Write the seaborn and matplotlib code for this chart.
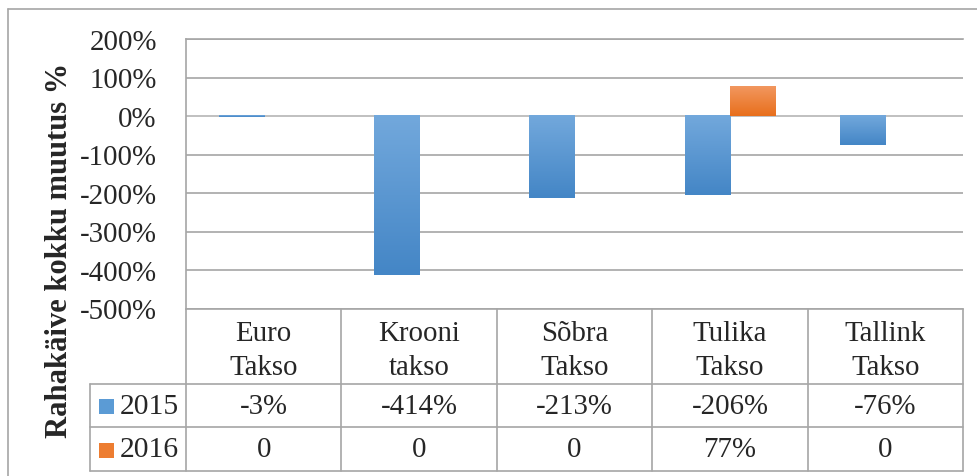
import numpy as np
import pandas as pd
import matplotlib
matplotlib.use("Agg")
import matplotlib.pyplot as plt
import matplotlib.transforms as mtransforms
import seaborn as sns
from matplotlib.colors import LinearSegmentedColormap
from matplotlib.patches import Rectangle
from matplotlib.lines import Line2D

# andmed
categories = ["Euro\nTakso", "Krooni\ntakso", "Sõbra\nTakso", "Tulika\nTakso", "Tallink\nTakso"]
years = ["2015", "2016"]
values_2015 = [-3, -414, -213, -206, -76]
values_2016 = [0, 0, 0, 77, 0]
y_ticks = [-500, -400, -300, -200, -100, 0, 100, 200]

df = pd.DataFrame({
    "firma": categories * 2,
    "aasta": [years[0]] * len(categories) + [years[1]] * len(categories),
    "muutus": values_2015 + values_2016,
})

base_colors = {"2015": "#5B9BD5", "2016": "#ED7D31"}
grad_colors = {"2015": ("#72A8DC", "#4486C6"), "2016": ("#F2975F", "#E86F1C")}
grid_col = "#a6a6a6"
fs = 20.8

sns.set_theme(style="white")
plt.rcParams["font.family"] = ["Liberation Serif", "DejaVu Serif"]

fig = plt.figure(figsize=(9.78, 4.77), dpi=100)
ax = fig.add_axes([186 / 978, 1 - 309.5 / 477, 777 / 978, 269.5 / 477])

sns.barplot(data=df, x="firma", y="muutus", hue="aasta", palette=base_colors,
            width=0.58, saturation=1, legend=False, linewidth=0, ax=ax)

# gradient fill like excel
for cont, yr in zip(ax.containers, years):
    top, bottom = grad_colors[yr]
    cmap = LinearSegmentedColormap.from_list("g" + yr, [top, bottom])
    for p in cont.patches:
        h = p.get_height()
        if h == 0:
            continue
        x0, y0, w = p.get_x(), p.get_y(), p.get_width()
        lo, hi = min(y0, y0 + h), max(y0, y0 + h)
        ax.imshow(np.linspace(0, 1, 64).reshape(-1, 1), cmap=cmap,
                  extent=(x0, x0 + w, lo, hi), origin="upper",
                  aspect="auto", zorder=3)
        p.set_facecolor("none")

ax.set_xlim(-0.5, len(categories) - 0.5)
ax.set_ylim(-500, 200)
ax.set_yticks(y_ticks)
ax.set_yticklabels([f"{t}%" for t in y_ticks], fontsize=fs)
ax.set_xticks([])
ax.set_xlabel("")
ax.set_ylabel("")
ax.tick_params(axis="y", length=0, pad=21)
ax.yaxis.grid(True, color=grid_col, lw=1.2)
ax.set_axisbelow(True)
ax.axhline(0, color="#c4c4c4", lw=1.2, zorder=0.8)
for s in ["top", "bottom", "left"]:
    ax.spines[s].set_color(grid_col)
    ax.spines[s].set_linewidth(1.2)
ax.spines["right"].set_visible(False)

# data table under the chart
row_y = [0, -0.280, -0.440, -0.603]
lab_x = -0.1236
kw = dict(transform=ax.transAxes, color=grid_col, lw=1.2, clip_on=False)
for i in range(len(categories) + 1):
    xf = i / len(categories)
    ax.plot([xf, xf], [row_y[0], row_y[-1]], **kw)
ax.plot([lab_x, lab_x], [row_y[1], row_y[-1]], **kw)
for yy in row_y[1:]:
    ax.plot([lab_x, 1], [yy, yy], **kw)

blend = mtransforms.blended_transform_factory(ax.transData, ax.transAxes)
for i, cat in enumerate(categories):
    ax.text(i, (row_y[0] + row_y[1]) / 2 - 0.013, cat, transform=blend,
            ha="center", va="center", fontsize=fs, linespacing=1.38)
for r, (yr, vals) in enumerate(zip(years, [values_2015, values_2016])):
    yc = (row_y[r + 1] + row_y[r + 2]) / 2
    for i, v in enumerate(vals):
        ax.text(i, yc, "0" if v == 0 else f"{v}%", transform=blend,
                ha="center", va="center", fontsize=fs)
    sq_h = 15 / 269.5
    ax.add_patch(Rectangle((-0.1122, yc - sq_h / 2 - 0.005), 15 / 777, sq_h,
                           transform=ax.transAxes, clip_on=False,
                           facecolor=base_colors[yr], edgecolor="none"))
    ax.text(-0.0855, yc, yr, transform=ax.transAxes, ha="left", va="center",
            fontsize=fs + 0.5)

fig.text(60 / 978, 1 - 250 / 477, "Rahakäive kokku muutus %", rotation=90,
         ha="center", va="center", fontsize=22, fontweight="bold")

# outer chart border
fig.add_artist(Line2D([8 / 978, 1], [1 - 10 / 477] * 2, transform=fig.transFigure,
                      color=grid_col, lw=1.2))
fig.add_artist(Line2D([8 / 978] * 2, [0, 1 - 10 / 477], transform=fig.transFigure,
                      color=grid_col, lw=1.2))

fig.savefig("out.png", dpi=100)
